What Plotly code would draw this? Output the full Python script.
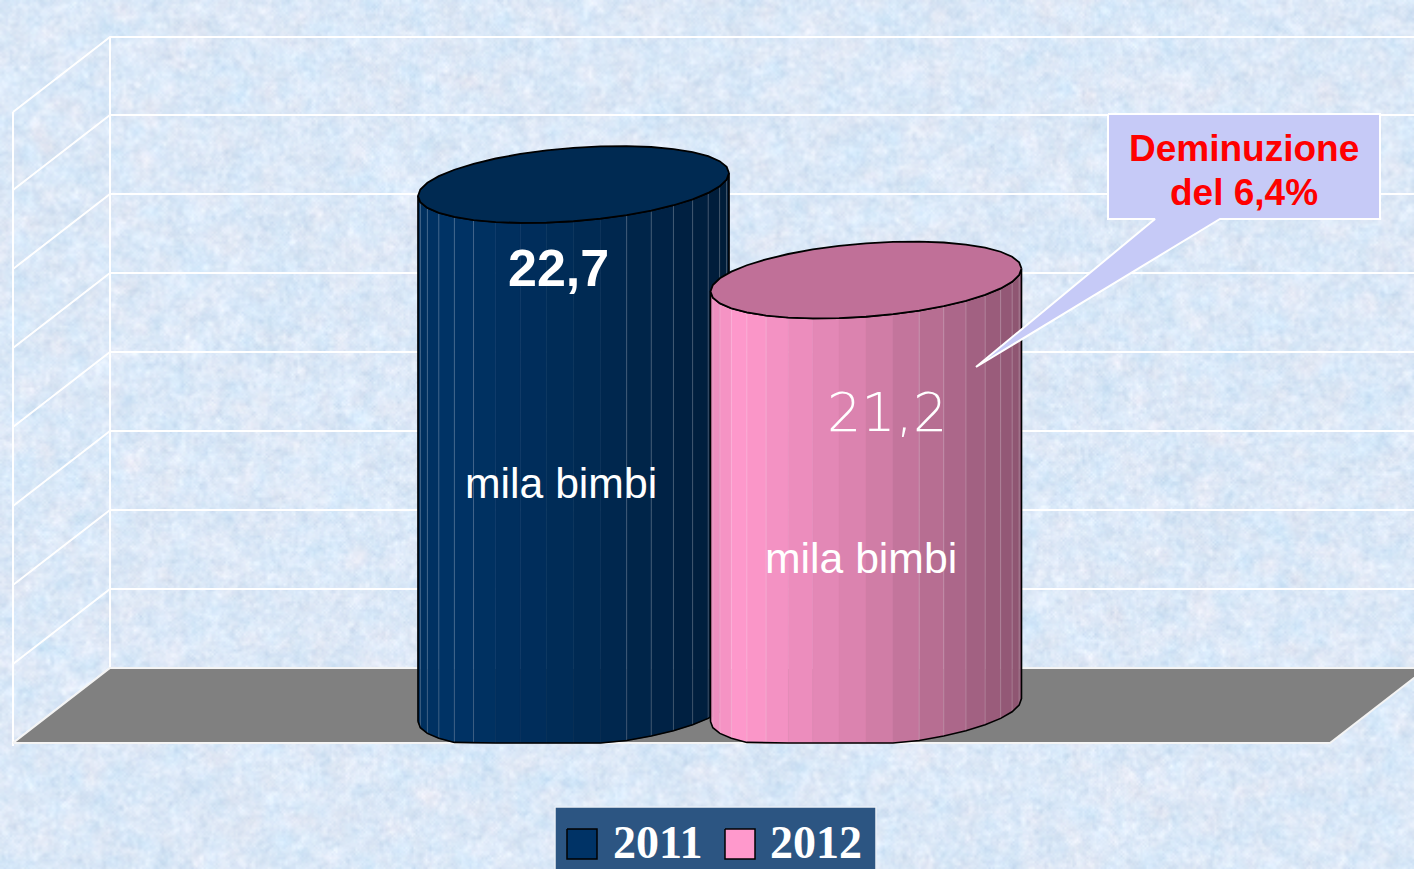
import base64, zlib, struct
import numpy as np
import plotly.graph_objects as go

# ---- data ----
YEARS = ["2011", "2012"]
VALUES = [22.7, 21.2]
VALUE_LABELS = ["22,7", "21,2"]
UNIT_LABEL = "mila bimbi"
CALLOUT_LINES = ["Deminuzione", "del 6,4%"]
GRID_VALUES = [15.107, 16.348, 17.588, 18.829, 20.070, 21.311, 22.551, 23.792, 25.017]

# ---- style / scale ----
W, H = 1414, 869
BASE_VALUE = 14.447     # value at the centre of the cylinder bases
BASE_PX = 710
PX_PER_UNIT = 63.67
def val(py):            # screen height -> value axis
    return BASE_VALUE + (BASE_PX - py) / PX_PER_UNIT
FRONT_BOTTOM = val(743)
DEPTH_X, DEPTH_Y = 97, 75 / PX_PER_UNIT
BACK_X, SIDE_X = 110, 13
CENTERS = [573.5, 866]
AX, AY, BX, BY = 155.5, -11.5, 0, 36.7   # ellipse conjugate radii, px
SIDES = [("#003366", "#002a52"), ("#ff99cc", "#c07098")]
FACETS = 36
U_STOPS, F_STOPS = [0, .1, .5, 1], [.92, 1, .84, .55]
LINE_COLOR = "rgba(255,255,255,0.22)"

def shade(hex_c, f):
    r, g, b = (int(hex_c[i:i + 2], 16) for i in (1, 3, 5))
    return f"rgb({r*f:.0f},{g*f:.0f},{b*f:.0f})"

def texture():
    rng = np.random.default_rng(7)
    h, w = H // 2 + 1, W // 2 + 1
    def blur(a, n):
        for _ in range(n):
            a = (a + np.roll(a, 1, 0) + np.roll(a, -1, 0) + np.roll(a, 1, 1) + np.roll(a, -1, 1)) / 5
        return a / a.std()
    fine = blur(rng.normal(size=(h, w)), 1)
    mid = blur(rng.normal(size=(h, w)), 14)
    tint = blur(rng.normal(size=(h, w)), 22)
    r = 221 + 5 * fine + 3 * mid + 2.5 * tint
    g = 234 + 4 * fine + 2 * mid
    b = 249 + 2.5 * fine + 1.5 * mid - 1 * tint
    img = np.clip(np.stack([r, g, b], -1), 0, 255).astype(np.uint8)
    img = (img // 3 * 3).astype(np.uint8)
    raw = b"".join(b"\0" + img[i].tobytes() for i in range(h))
    def chunk(t, d):
        return struct.pack(">I", len(d)) + t + d + struct.pack(">I", zlib.crc32(t + d) & 0xffffffff)
    png = b"\x89PNG\r\n\x1a\n" + chunk(b"IHDR", struct.pack(">IIBBBBB", w, h, 8, 2, 0, 0, 0)) \
        + chunk(b"IDAT", zlib.compress(raw, 9)) + chunk(b"IEND", b"")
    return "data:image/png;base64," + base64.b64encode(png).decode()

fig = go.Figure()
def poly(xs, ys, fill, line=None, width=0):
    fig.add_trace(go.Scatter(x=list(xs), y=list(ys), mode="lines", fill="toself", fillcolor=fill,
                             line=dict(color=line or fill, width=width), hoverinfo="skip", showlegend=False))
def seg(xs, ys, color="white", width=2):
    fig.add_trace(go.Scatter(x=list(xs), y=list(ys), mode="lines", line=dict(color=color, width=width),
                             hoverinfo="skip", showlegend=False))

# walls and floor
for g in GRID_VALUES:
    seg([SIDE_X, BACK_X, W + 5], [g - DEPTH_Y, g, g])
seg([BACK_X, BACK_X], [GRID_VALUES[0], GRID_VALUES[-1]])
seg([SIDE_X, SIDE_X], [val(746), GRID_VALUES[-1] - DEPTH_Y])
FLOOR_END = 1330
poly([SIDE_X, BACK_X, FLOOR_END + DEPTH_X, FLOOR_END, SIDE_X],
     [FRONT_BOTTOM, GRID_VALUES[0], GRID_VALUES[0], FRONT_BOTTOM, FRONT_BOTTOM], "#808080", "#f4f4f4", 2)

# cylinders
for cx, v, (side, top) in zip(CENTERS, VALUES, SIDES):
    ts = np.linspace(0, np.pi, FACETS // 2 + 1)
    dx = AX * np.cos(ts) + BX * np.sin(ts)
    dv = -(AY * np.cos(ts) + BY * np.sin(ts)) / PX_PER_UNIT
    xs = cx + dx
    top_line = v + dv
    bot_line = np.maximum(BASE_VALUE + dv, FRONT_BOTTOM)
    xl, xr = xs.min(), xs.max()
    order = np.argsort(xs)
    xs, top_line, bot_line, dxs = xs[order], top_line[order], bot_line[order], dx[order]
    for i in range(len(xs) - 1):
        u = ((xs[i] + xs[i + 1]) / 2 - xl) / (xr - xl)
        c = shade(side, float(np.interp(u, U_STOPS, F_STOPS)))
        poly([xs[i], xs[i + 1], xs[i + 1], xs[i], xs[i]],
             [top_line[i], top_line[i + 1], bot_line[i + 1], bot_line[i], top_line[i]], c, c, 0.5)
        if i and (dxs[i] < -84 or dxs[i] > 36):
            seg([xs[i], xs[i]], [bot_line[i], top_line[i]], LINE_COLOR, 1)
    # outline
    ox = np.r_[xs, xs[::-1], xs[0]]
    oy = np.r_[bot_line, top_line[::-1], bot_line[0]]
    seg(ox, oy, "black", 1.6)
    tf = np.linspace(0, 2 * np.pi, FACETS + 1)
    poly(cx + AX * np.cos(tf) + BX * np.sin(tf), v - (AY * np.cos(tf) + BY * np.sin(tf)) / PX_PER_UNIT,
         top, "black", 1.8)

# callout
CX0, CX1, CY0, CY1 = 1108, 1380, val(219), val(114)
poly([CX0, CX1, CX1, 1220, 976, 1155, CX0, CX0],
     [CY1, CY1, CY0, CY0, val(367), CY0, CY0, CY1], "#c6caf7", "white", 2)

def text(x, y, s, size, color="white", family="Liberation Sans", bold=False):
    fig.add_annotation(x=x, y=val(y), text=f"<b>{s}</b>" if bold else s, showarrow=False,
                       xanchor="center", yanchor="middle", font=dict(family=family, size=size, color=color))

text(558, 268, VALUE_LABELS[0], 52, bold=True)
text(561, 483, UNIT_LABEL, 42.7)
text(887, 412, VALUE_LABELS[1], 54, family="DejaVu Sans Light, DejaVu Sans")
text(861, 558, UNIT_LABEL, 42.7)
text(1244, 148, CALLOUT_LINES[0], 37, "#ff0000", bold=True)
text(1244, 192, CALLOUT_LINES[1], 37, "#ff0000", bold=True)

# legend
poly([555, 876, 876, 555, 555], [val(807), val(807), val(875), val(875), val(807)], "#2c5582", "#e8eef6", 1.5)
for sx, tx, year, (side, _) in zip([567, 725], [657.5, 816], YEARS, SIDES):
    poly([sx, sx + 30, sx + 30, sx, sx], [val(829), val(829), val(859), val(859), val(829)], side, "black", 1.5)
    text(tx, 842, year, 46, family="Liberation Serif", bold=True)

fig.update_layout(
    width=W, height=H, margin=dict(l=0, r=0, t=0, b=0), autosize=False,
    paper_bgcolor="#dbe9fa", plot_bgcolor="rgba(0,0,0,0)", showlegend=False,
    xaxis=dict(range=[0, W], visible=False, fixedrange=True),
    yaxis=dict(range=[val(H), val(0)], visible=False, fixedrange=True),
    images=[dict(source=texture(), xref="paper", yref="paper", x=0, y=1, sizex=1, sizey=1,
                 sizing="stretch", layer="below", xanchor="left", yanchor="top")],
)
fig.write_html("out.html", config={"displayModeBar": False},
               post_script="document.body.style.margin='0';document.documentElement.style.overflow='hidden';")
